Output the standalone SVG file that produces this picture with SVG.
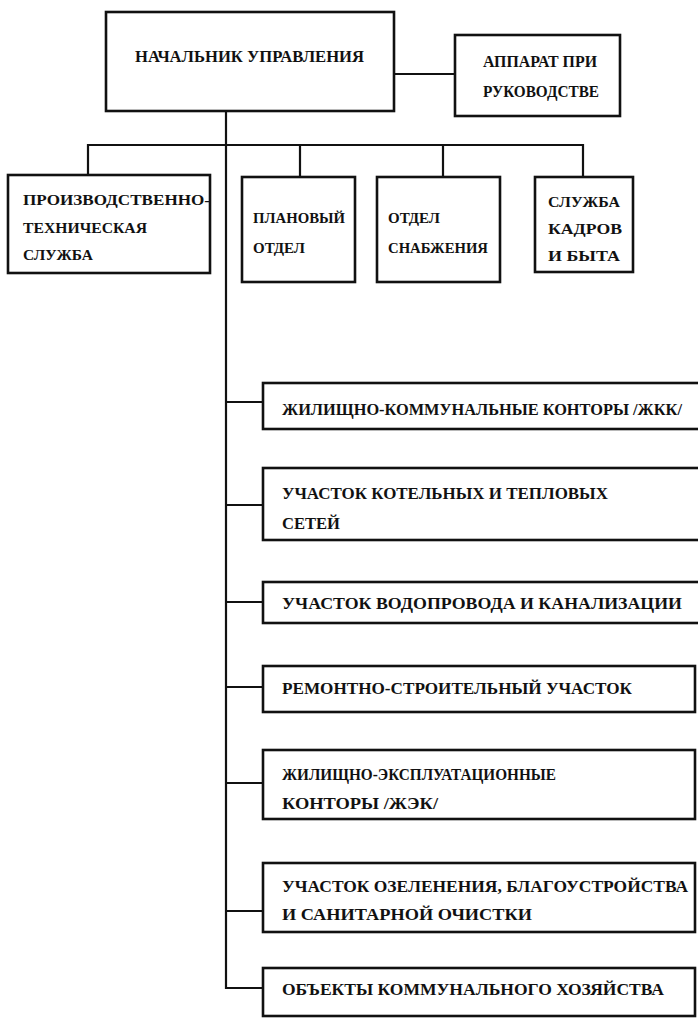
<svg xmlns="http://www.w3.org/2000/svg" width="698" height="1019" viewBox="0 0 698 1019">
<style>
.box{fill:#fff;stroke:#111;stroke-width:2.6}
.ln{fill:none;stroke:#111;stroke-width:2.2}
text{font-family:"Liberation Serif","DejaVu Serif",serif;font-weight:bold;fill:#111;font-size:16px}
.s{font-size:15px}
</style>
<rect width="698" height="1019" fill="#fff"/>
<g id="connectors">
<path class="ln" d="M394 74H455"/>
<path class="ln" d="M226 111V988H263"/>
<path class="ln" d="M88 175V145H583V177M300 145V177M443 145V177"/>
<path class="ln" d="M226 402H263M226 505H263M226 602H263M226 687H263M226 783H263M226 911H263"/>
</g>
<g id="n-head"><rect class="box" x="106" y="12" width="288" height="99"/><text x="135" y="62" textLength="229" lengthAdjust="spacingAndGlyphs">НАЧАЛЬНИК УПРАВЛЕНИЯ</text></g>
<g id="n-apparat"><rect class="box" x="455" y="35" width="165" height="81"/><text x="483" y="67" textLength="114" lengthAdjust="spacingAndGlyphs">АППАРАТ ПРИ</text><text x="483" y="97" textLength="116" lengthAdjust="spacingAndGlyphs">РУКОВОДСТВЕ</text></g>
<g id="n-pts"><rect class="box" x="8" y="175" width="202" height="98"/><text class="s" x="23" y="205" textLength="187" lengthAdjust="spacingAndGlyphs">ПРОИЗВОДСТВЕННО-</text><text class="s" x="23" y="233" textLength="124" lengthAdjust="spacingAndGlyphs">ТЕХНИЧЕСКАЯ</text><text class="s" x="23" y="260" textLength="70" lengthAdjust="spacingAndGlyphs">СЛУЖБА</text></g>
<g id="n-plan"><rect class="box" x="242" y="177" width="113" height="105"/><text class="s" x="253" y="223" textLength="92" lengthAdjust="spacingAndGlyphs">ПЛАНОВЫЙ</text><text class="s" x="253" y="253" textLength="52" lengthAdjust="spacingAndGlyphs">ОТДЕЛ</text></g>
<g id="n-snab"><rect class="box" x="377" y="177" width="123" height="105"/><text class="s" x="388" y="223" textLength="52" lengthAdjust="spacingAndGlyphs">ОТДЕЛ</text><text class="s" x="388" y="253" textLength="100" lengthAdjust="spacingAndGlyphs">СНАБЖЕНИЯ</text></g>
<g id="n-kadr"><rect class="box" x="535" y="177" width="98" height="95"/><text class="s" x="548" y="207" textLength="72" lengthAdjust="spacingAndGlyphs">СЛУЖБА</text><text class="s" x="548" y="234" textLength="74" lengthAdjust="spacingAndGlyphs">КАДРОВ</text><text class="s" x="548" y="261" textLength="72" lengthAdjust="spacingAndGlyphs">И БЫТА</text></g>
<g id="n-zhkk"><rect class="box" x="263" y="383" width="445" height="46"/><text x="282" y="415" textLength="400" lengthAdjust="spacingAndGlyphs">ЖИЛИЩНО-КОММУНАЛЬНЫЕ КОНТОРЫ /ЖКК/</text></g>
<g id="n-kotel"><rect class="box" x="263" y="468" width="445" height="72"/><text x="282" y="499" textLength="326" lengthAdjust="spacingAndGlyphs">УЧАСТОК КОТЕЛЬНЫХ И ТЕПЛОВЫХ</text><text x="282" y="529" textLength="58" lengthAdjust="spacingAndGlyphs">СЕТЕЙ</text></g>
<g id="n-vodo"><rect class="box" x="263" y="582" width="445" height="41"/><text x="282" y="609" textLength="400" lengthAdjust="spacingAndGlyphs">УЧАСТОК ВОДОПРОВОДА И КАНАЛИЗАЦИИ</text></g>
<g id="n-remont"><rect class="box" x="263" y="666" width="432" height="46"/><text x="282" y="694" textLength="350" lengthAdjust="spacingAndGlyphs">РЕМОНТНО-СТРОИТЕЛЬНЫЙ УЧАСТОК</text></g>
<g id="n-zhek"><rect class="box" x="263" y="750" width="432" height="69"/><text x="282" y="780" textLength="274" lengthAdjust="spacingAndGlyphs">ЖИЛИЩНО-ЭКСПЛУАТАЦИОННЫЕ</text><text x="282" y="809" textLength="156" lengthAdjust="spacingAndGlyphs">КОНТОРЫ /ЖЭК/</text></g>
<g id="n-ozel"><rect class="box" x="263" y="863" width="432" height="69"/><text x="282" y="892" textLength="406" lengthAdjust="spacingAndGlyphs">УЧАСТОК ОЗЕЛЕНЕНИЯ, БЛАГОУСТРОЙСТВА</text><text x="282" y="920" textLength="250" lengthAdjust="spacingAndGlyphs">И САНИТАРНОЙ ОЧИСТКИ</text></g>
<g id="n-obj"><rect class="box" x="263" y="968" width="432" height="48"/><text x="282" y="995" textLength="382" lengthAdjust="spacingAndGlyphs">ОБЪЕКТЫ КОММУНАЛЬНОГО ХОЗЯЙСТВА</text></g>
</svg>
